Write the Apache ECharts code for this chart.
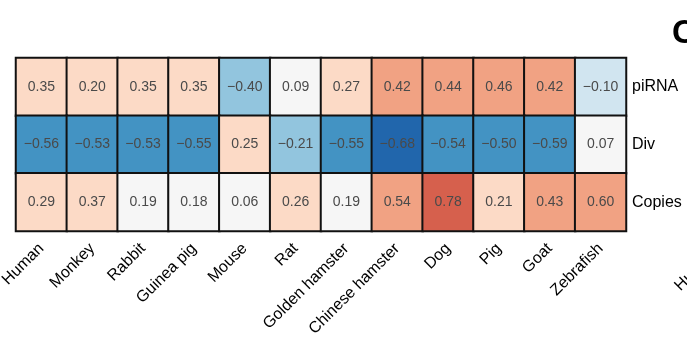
<!DOCTYPE html>
<html><head><meta charset="utf-8">
<script src="https://cdn.jsdelivr.net/npm/echarts@6/dist/echarts.min.js"></script>
<style>html,body{margin:0;padding:0;background:#fff}#c{width:687px;height:341px}</style>
</head><body><div id="c"></div>
<script>
const species = ['Human','Monkey','Rabbit','Guinea pig','Mouse','Rat','Golden hamster','Chinese hamster','Dog','Pig','Goat','Zebrafish'];
const rows = ['piRNA','Div','Copies'];
const piRNA  = [0.35, 0.20, 0.35, 0.35, -0.40, 0.09, 0.27, 0.42, 0.44, 0.46, 0.42, -0.10];
const div    = [-0.56, -0.53, -0.53, -0.55, 0.25, -0.21, -0.55, -0.68, -0.54, -0.50, -0.59, 0.07];
const copies = [0.29, 0.37, 0.19, 0.18, 0.06, 0.26, 0.19, 0.54, 0.78, 0.21, 0.43, 0.60];

const rowVals = [piRNA, div, copies];
const data = [];
rowVals.forEach((arr, r) => arr.forEach((v, c) => data.push([c, r, v])));

const FONT = '"Liberation Sans", Arial, sans-serif';
const chart = echarts.init(document.getElementById('c'), null, {renderer: 'canvas'});
chart.setOption({
  animation: false,
  textStyle: {fontFamily: FONT},
  grid: {left: 16, right: 61, top: 58, bottom: 110, containLabel: false, outerBoundsMode: 'none'},
  xAxis: {
    type: 'category', data: species,
    axisLine: {show: false}, axisTick: {show: false}, splitLine: {show: false},
    axisLabel: {rotate: 45, color: '#000', fontSize: 16, fontFamily: FONT, margin: 15, interval: 0}
  },
  yAxis: {
    type: 'category', data: rows, inverse: true, position: 'right',
    axisLine: {show: false}, axisTick: {show: false}, splitLine: {show: false},
    axisLabel: {color: '#000', fontSize: 16, fontFamily: FONT, margin: 6}
  },
  visualMap: {
    show: false, type: 'piecewise', dimension: 2,
    pieces: [
      {gt: 0.6, color: '#d6604d'},
      {gte: 0.4, lte: 0.6, color: '#f1a283'},
      {gte: 0.2, lt: 0.4, color: '#fcdac6'},
      {gte: 0, lt: 0.2, color: '#f6f6f6'},
      {gt: -0.2, lt: 0, color: '#d1e5f0'},
      {gte: -0.4, lte: -0.2, color: '#92c5de'},
      {gt: -0.6, lt: -0.4, color: '#4393c3'},
      {lte: -0.6, color: '#2166ac'}
    ]
  },
  series: [{
    type: 'heatmap', data: data,
    itemStyle: {borderColor: '#111', borderWidth: 2},
    label: {
      show: true, color: '#4a4a4a', fontSize: 14, fontFamily: FONT,
      formatter: p => { const v = p.value[2]; return (v < 0 ? '\u2212' : '') + Math.abs(v).toFixed(2); }
    }
  }],
  graphic: [
    {type: 'text', left: 672, top: 17, style: {text: 'C', font: 'bold 33px ' + FONT, fill: '#000'}},
    {type: 'text', x: 683, y: 294, rotation: Math.PI / 4,
     style: {text: 'Human', font: '16px ' + FONT, fill: '#000', textVerticalAlign: 'bottom'}}
  ]
});
</script></body></html>
